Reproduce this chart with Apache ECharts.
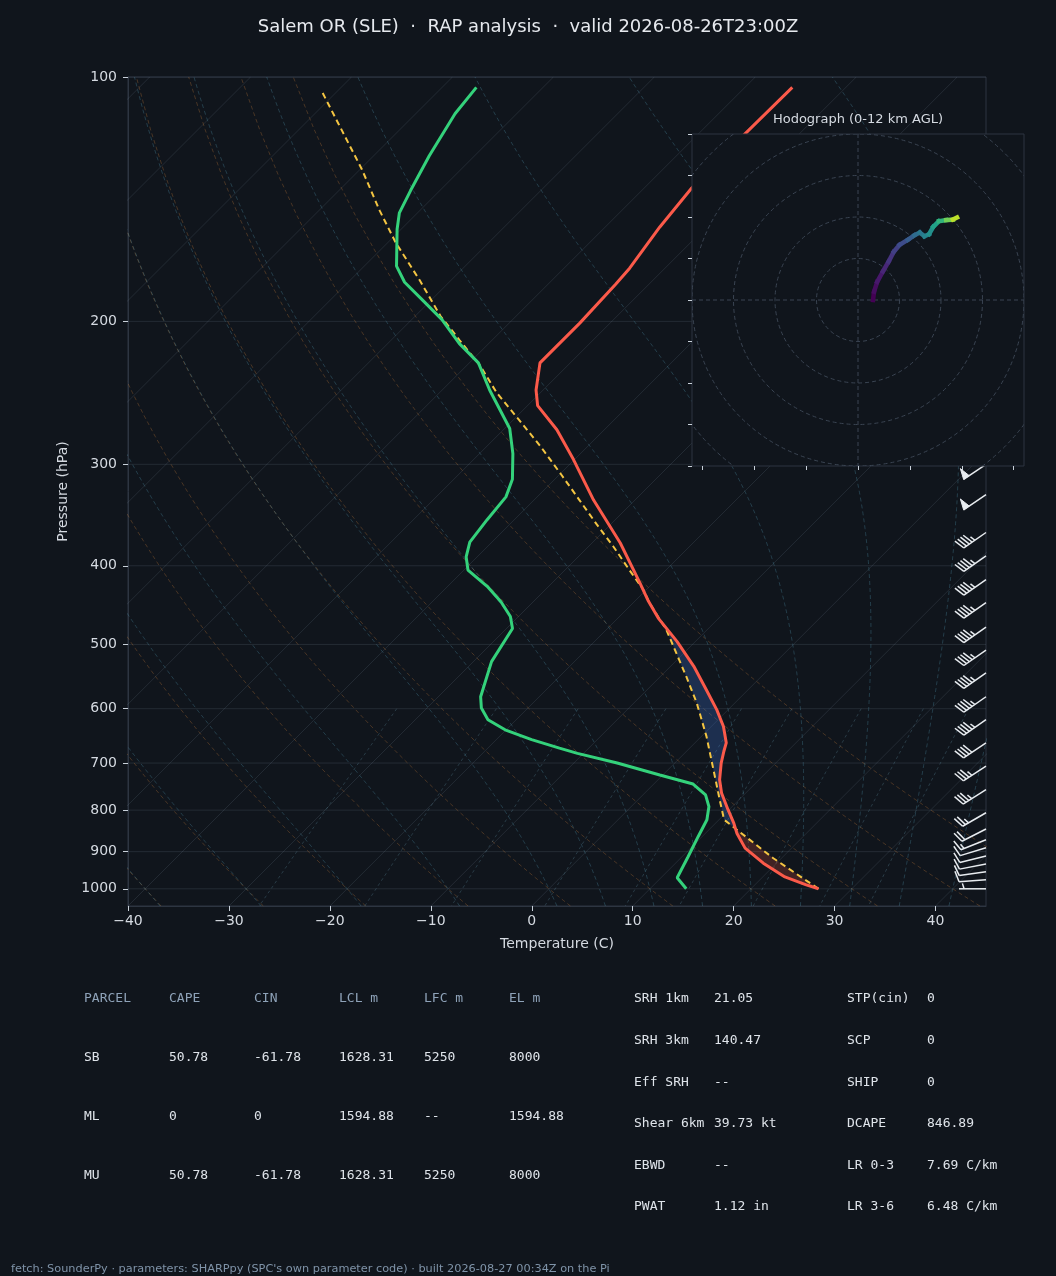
<!DOCTYPE html>
<html>
<head>
<meta charset="utf-8">
<title>Salem OR (SLE) sounding</title>
<script src="https://cdn.jsdelivr.net/npm/echarts@6/dist/echarts.min.js"></script>
<style>
html, body { margin: 0; padding: 0; background: #10151c; }
#chart { width: 1056px; height: 1276px; }
</style>
</head>
<body>
<div id="chart"></div>
<script>
// environment profile (hPa / degC)
var tempP = [1000, 989, 967, 930, 891, 854, 830, 799, 762, 734, 700, 677, 661, 631, 602, 569, 532, 496, 464, 441, 420, 375, 332, 296, 272, 254, 243, 225, 201, 180, 172, 153, 137, 119, 103];
var tempC = [26.7, 25.1, 22.2, 18.7, 15.4, 13.1, 11.8, 9.9, 7.6, 6.1, 4.6, 3.7, 3.1, 1.2, -1.1, -4.1, -7.7, -11.8, -16.0, -18.8, -21.3, -27.2, -34.1, -40.1, -44.7, -49.0, -50.7, -53.0, -53.0, -53.3, -53.5, -54.6, -55.3, -55.4, -55.3];

var dewP = [1000, 969, 913, 862, 822, 792, 766, 743, 724, 700, 681, 671, 655, 637, 619, 599, 580, 525, 478, 462, 443, 424, 405, 390, 374, 351, 329, 313, 291, 271, 243, 225, 213, 199, 189, 179, 171, 154, 147, 138, 125, 111, 103];
var dewC = [13.6, 11.6, 10.6, 9.6, 8.8, 7.7, 6.2, 3.9, -0.3, -5.7, -10.6, -12.9, -16.5, -20.1, -22.8, -24.6, -25.8, -28.2, -29.4, -30.8, -33.2, -36.1, -39.6, -41.1, -42.2, -42.7, -43.1, -44.2, -46.7, -49.5, -55.3, -59.1, -62.9, -67.0, -70.6, -74.4, -76.8, -80.4, -81.8, -82.9, -84.5, -86.1, -86.6];

// surface parcel path
var parcelP = [1000, 917, 822, 777, 734, 649, 590, 548, 480, 445, 428, 405, 379, 355, 332, 309, 285, 265, 245, 227, 211, 197, 178, 160, 146, 130, 104];
var parcelC = [26.7, 19.2, 10.5, 8.1, 5.7, 0.5, -3.8, -7.4, -14.0, -18.3, -20.3, -23.6, -27.5, -31.5, -35.5, -39.8, -44.7, -49.3, -54.3, -58.6, -63.2, -67.5, -73.1, -79.2, -84.0, -89.8, -101.6];

// wind barbs (hPa, kt, deg from)
var barbP = [300, 327, 364, 389, 416, 444, 476, 508, 542, 580, 619, 661, 706, 755, 806, 844, 870, 890, 911, 932, 953, 975, 1000];
var barbSpd = [50, 50, 45, 45, 45, 45, 45, 45, 45, 45, 45, 40, 35, 35, 25, 20, 15, 10, 10, 10, 10, 10, 5];
var barbDir = [236, 236, 235, 235, 235, 235, 235, 235, 235, 235, 235, 236, 237, 238, 240, 243, 248, 253, 256, 259, 262, 266, 270];

// hodograph trace (u, v) and height km
var hodoU = [2.9, 3.1, 3.7, 4.8, 5.9, 6.9, 8.0, 9.6, 10.9, 11.9, 12.8, 13.7, 14.5, 15.6, 17.0, 18.3, 19.1];
var hodoV = [0.0, 1.6, 3.5, 5.5, 7.4, 9.3, 10.6, 11.6, 12.5, 13.0, 12.3, 12.7, 14.1, 15.2, 15.4, 15.5, 15.9];
var hodoZ = [0, 0.4, 0.8, 1.3, 1.8, 2.3, 2.8, 3.5, 4.2, 4.8, 5.4, 6.0, 6.8, 7.8, 9.4, 10.8, 12.0];

// axis ticks
var pLabels = [100, 200, 300, 400, 500, 600, 700, 800, 900, 1000];
var tLabels = [-40, -30, -20, -10, 0, 10, 20, 30, 40];
var ringKt = [8, 16, 24, 32, 40];

// table text
var tableHead = ['PARCEL', 'CAPE', 'CIN', 'LCL m', 'LFC m', 'EL m'];
var tableRows = [
	['SB', '50.78', '-61.78', '1628.31', '5250', '8000'],
	['ML', '0', '0', '1594.88', '--', '1594.88'],
	['MU', '50.78', '-61.78', '1628.31', '5250', '8000']
];
var paramsA = [['SRH 1km', '21.05'], ['SRH 3km', '140.47'], ['Eff SRH', '--'], ['Shear 6km', '39.73 kt'], ['EBWD', '--'], ['PWAT', '1.12 in']];
var paramsB = [['STP(cin)', '0'], ['SCP', '0'], ['SHIP', '0'], ['DCAPE', '846.89'], ['LR 0-3', '7.69 C/km'], ['LR 3-6', '6.48 C/km']];

var titleText = 'Salem OR (SLE)  \u00b7  RAP analysis  \u00b7  valid 2026-08-26T23:00Z';
var footText = 'fetch: SounderPy \u00b7 parameters: SHARPpy (SPC\'s own parameter code) \u00b7 built 2026-08-27 00:34Z on the Pi';

// ---- skew-T helpers
var PBOT = 1050, PTOP = 100;
var KSKEW = 80.44; // degC of x shift per decade of pressure
function skewX(t, p) { return t + KSKEW * Math.log10(PBOT / p); }
function prof(P, T) {
	return P.map(function(p, i) { return [skewX(T[i], p), Math.log10(p)]; });
}
function linspace(a, b, n) {
	var out = [];
	for (var i = 0; i < n; i++) out.push(a + (b - a) * i / (n - 1));
	return out;
}
function interpT(P, T, p) {
	for (var i = 0; i < P.length - 1; i++) {
		if (P[i] >= p && P[i + 1] <= p) {
			var f = Math.log(P[i] / p) / Math.log(P[i] / P[i + 1]);
			return T[i] + (T[i + 1] - T[i]) * f;
		}
	}
	return T[T.length - 1];
}
// part of a profile between two pressures, ordered top -> bottom
function piece(P, T, pTop, pBot) {
	var out = [[interpT(P, T, pTop), pTop]];
	for (var i = P.length - 1; i >= 0; i--) {
		if (P[i] > pTop && P[i] < pBot) out.push([T[i], P[i]]);
	}
	out.push([interpT(P, T, pBot), pBot]);
	return out;
}

var kappa = 0.28571;
function dryLine(theta) {
	return linspace(PBOT, PTOP, 60).map(function(p) {
		var t = (theta + 273.15) * Math.pow(p / 1000, kappa) - 273.15;
		return [skewX(t, p), Math.log10(p)];
	});
}
function moistLine(t0) {
	var Rd = 287.04749, Lv = 2.50084e6, Cp = 1004.6662, eps = 0.622;
	function grad(p, T) {
		var tc = T - 273.15;
		var es = 6.112 * Math.exp(17.67 * tc / (tc + 243.5));
		var rs = eps * es / (p - es);
		return (Rd * T + Lv * rs) / (Cp + Lv * Lv * rs * eps / (Rd * T * T)) / p;
	}
	function walk(pEnd, step) {
		var pts = [], p = 1000, T = t0 + 273.15;
		while (Math.abs(p - pEnd) > 1e-6) {
			var h = step;
			if (Math.abs(pEnd - p) < Math.abs(h)) h = pEnd - p;
			var k1 = grad(p, T), k2 = grad(p + h / 2, T + h / 2 * k1);
			var k3 = grad(p + h / 2, T + h / 2 * k2), k4 = grad(p + h, T + h * k3);
			T += h / 6 * (k1 + 2 * k2 + 2 * k3 + k4);
			p += h;
			pts.push([p, T]);
		}
		return pts;
	}
	var pts = walk(PBOT, 5).reverse().concat([[1000, t0 + 273.15]], walk(PTOP, -5));
	return pts.map(function(d) { return [skewX(d[1] - 273.15, d[0]), Math.log10(d[0])]; });
}
function mixLine(w) {
	return linspace(600, PBOT, 50).map(function(p) {
		var e = p * w / (0.622 + w);
		var l = Math.log(e / 6.112);
		var td = 243.5 * l / (17.67 - l);
		return [skewX(td, p), Math.log10(p)];
	});
}

var series = [];
function bgLine(data, color, type, width) {
	series.push({
		type: 'line', data: data, showSymbol: false, silent: true, z: 1,
		lineStyle: { color: color, width: width || 1, type: type },
		xAxisIndex: 0, yAxisIndex: 0
	});
}
// isobars
pLabels.forEach(function(p) {
	bgLine([[-40, Math.log10(p)], [45, Math.log10(p)]], 'rgba(150,170,190,0.15)', 'solid');
});
// isotherms
for (var t = -120; t <= 40; t += 10) {
	bgLine([[skewX(t, PBOT), Math.log10(PBOT)], [skewX(t, PTOP), Math.log10(PTOP)]], 'rgba(150,170,190,0.15)', 'solid');
}
// dry adiabats
for (var th = -40; th <= 50; th += 10) bgLine(dryLine(th), 'rgba(205,130,60,0.3)', [4, 3]);
// moist adiabats
[-40, -30, -20, -10, 0, 5, 10, 15, 20, 25, 30, 35, 40, 45, 50].forEach(function(t0) {
	bgLine(moistLine(t0), 'rgba(80,150,175,0.32)', [4, 3]);
});
// mixing ratio lines
[0.0004, 0.001, 0.002, 0.004, 0.007, 0.01, 0.016, 0.024, 0.032].forEach(function(w) {
	bgLine(mixLine(w), 'rgba(100,150,170,0.3)', [3, 3]);
});

// CIN / CAPE shading between environment and parcel
var pCross = 844, pCinTop = 480;
function shadeSeries(pTop, pBot, color) {
	series.push({
		type: 'custom', silent: true, z: 2, xAxisIndex: 0, yAxisIndex: 0,
		data: [[0, 2]],
		renderItem: function(params, api) {
			var a = piece(tempP, tempC, pTop, pBot);
			var b = piece(parcelP, parcelC, pTop, pBot).reverse();
			var pts = a.concat(b).map(function(d) {
				return api.coord([skewX(d[0], d[1]), Math.log10(d[1])]);
			});
			return { type: 'polygon', shape: { points: pts }, style: { fill: color } };
		}
	});
}
shadeSeries(pCinTop, pCross, 'rgba(60,110,200,0.30)');
shadeSeries(pCross, 1000, 'rgba(220,80,60,0.24)');

// profiles
series.push({
	type: 'line', data: prof(parcelP, parcelC), showSymbol: false, z: 4,
	lineStyle: { color: '#f4c542', width: 2, type: [6, 4] }
});
series.push({
	type: 'line', data: prof(dewP, dewC), showSymbol: false, z: 5,
	lineStyle: { color: '#34d27b', width: 3 }
});
series.push({
	type: 'line', data: prof(tempP, tempC), showSymbol: false, z: 5,
	lineStyle: { color: '#fb5a4a', width: 3 }
});

// wind barbs at the right edge
series.push({
	type: 'custom', z: 6, clip: false, xAxisIndex: 0, yAxisIndex: 0,
	data: barbP.map(function(p, i) { return [45, Math.log10(p), barbSpd[i], barbDir[i]]; }),
	renderItem: function(params, api) {
		var base = api.coord([api.value(0), api.value(1)]);
		var spd = api.value(2), dir = api.value(3) * Math.PI / 180;
		var L = 27, fh = 0.4 * L, fw = 0.25 * L, sp = 0.125 * L;
		var a = [Math.sin(dir), -Math.cos(dir)], n = [Math.cos(dir), Math.sin(dir)];
		var col = '#e8ecf0';
		function pt(along, side) {
			return [base[0] + a[0] * along + n[0] * side, base[1] + a[1] * along + n[1] * side];
		}
		function seg(p1, p2) {
			return { type: 'line', shape: { x1: p1[0], y1: p1[1], x2: p2[0], y2: p2[1] }, style: { stroke: col, lineWidth: 1.5 } };
		}
		var kids = [seg(base, pt(L, 0))];
		var r = Math.round(spd / 5) * 5;
		var nf = Math.floor(r / 50); r -= 50 * nf;
		var nb = Math.floor(r / 10); r -= 10 * nb;
		var off = L;
		for (var i = 0; i < nf; i++) {
			if (off !== L) off += sp / 2;
			kids.push({ type: 'polygon', shape: { points: [pt(off, 0), pt(off - fw / 2, fh), pt(off - fw, 0)] },
				style: { fill: col, stroke: col, lineWidth: 1 } });
			off -= fw + sp;
		}
		for (var j = 0; j < nb; j++) {
			kids.push(seg(pt(off, 0), pt(off + fw / 2, fh)));
			off -= sp;
		}
		if (r >= 5) {
			if (off === L) off -= 1.5 * sp;
			kids.push(seg(pt(off, 0), pt(off + fw / 4, fh / 2)));
		}
		return { type: 'group', children: kids };
	}
});

// hodograph rings
series.push({
	type: 'custom', xAxisIndex: 1, yAxisIndex: 1, z: 12, silent: true, clip: true,
	data: [[0, 0]],
	renderItem: function(params, api) {
		var c = api.coord([0, 0]);
		var cs = params.coordSys;
		var sty = { stroke: '#3a4452', fill: null, lineWidth: 1, lineDash: [4, 3] };
		var kids = ringKt.map(function(r) {
			return { type: 'circle', shape: { cx: c[0], cy: c[1], r: api.size([r, r])[0] }, style: sty };
		});
		kids.push({ type: 'line', shape: { x1: cs.x, y1: c[1], x2: cs.x + cs.width, y2: c[1] }, style: sty });
		kids.push({ type: 'line', shape: { x1: c[0], y1: cs.y, x2: c[0], y2: cs.y + cs.height }, style: sty });
		return { type: 'group', children: kids };
	}
});
// hodograph trace, colored by height
var hodoIndex = series.length;
series.push({
	type: 'custom', xAxisIndex: 1, yAxisIndex: 1, z: 13, clip: true,
	data: hodoU.slice(0, -1).map(function(u, i) {
		return [u, hodoV[i], hodoU[i + 1], hodoV[i + 1], hodoZ[i]];
	}),
	renderItem: function(params, api) {
		var p1 = api.coord([api.value(0), api.value(1)]);
		var p2 = api.coord([api.value(2), api.value(3)]);
		return { type: 'line', shape: { x1: p1[0], y1: p1[1], x2: p2[0], y2: p2[1] },
			style: { stroke: api.visual('color'), lineWidth: 4.5, lineCap: 'square' } };
	}
});

function minus(v) { return v < 0 ? '\u2212' + Math.abs(v) : String(v); }
var txt = '#d5dae1';
var gridCol = '#2d3541';
var mono = '"DejaVu Sans Mono", monospace';

var graphics = [];
function addText(s, x, y, color, font) {
	graphics.push({
		type: 'text', silent: true,
		style: { text: s, x: x, y: y, fill: color, font: font, textVerticalAlign: 'middle', verticalAlign: 'middle' }
	});
}
var colX = [84, 169, 254, 339, 424, 509];
tableHead.forEach(function(h, i) { addText(h, colX[i], 999, '#8ea2b8', '13px ' + mono); });
tableRows.forEach(function(row, r) {
	row.forEach(function(c, i) { addText(c, colX[i], 1058 + r * 59, '#dfe4ea', '13px ' + mono); });
});
paramsA.forEach(function(row, r) {
	addText(row[0], 634, 999 + r * 41.6, '#dfe4ea', '13px ' + mono);
	addText(row[1], 714, 999 + r * 41.6, '#dfe4ea', '13px ' + mono);
});
paramsB.forEach(function(row, r) {
	addText(row[0], 847, 999 + r * 41.6, '#dfe4ea', '13px ' + mono);
	addText(row[1], 927, 999 + r * 41.6, '#dfe4ea', '13px ' + mono);
});
addText(footText, 11, 1269, '#7f93a8', '11.3px "DejaVu Sans", sans-serif');

var chart = echarts.init(document.getElementById('chart'), null, { renderer: 'canvas' });
chart.setOption({
	backgroundColor: '#10151c',
	animation: false,
	textStyle: { fontFamily: '"DejaVu Sans", sans-serif' },
	title: [
		{ text: titleText, left: 'center', top: 18, padding: 0,
			textStyle: { color: '#e6e9ee', fontSize: 18, fontWeight: 'normal', fontFamily: '"DejaVu Sans", sans-serif' } },
		{ text: 'Hodograph (0-12 km AGL)', left: 858, textAlign: 'center', top: 113, padding: 0,
			textStyle: { color: '#d5dae1', fontSize: 13, fontWeight: 'normal', fontFamily: '"DejaVu Sans", sans-serif' } }
	],
	grid: [
		{ left: 128, top: 77, width: 858, height: 829, show: true, backgroundColor: '#10151c', borderColor: gridCol, borderWidth: 1 },
		{ left: 692, top: 134, width: 332, height: 332, show: true, backgroundColor: '#10151c', borderColor: gridCol, borderWidth: 1, z: 10 }
	],
	xAxis: [
		{ type: 'value', gridIndex: 0, min: -40, max: 45, interval: 10,
			name: 'Temperature (C)', nameLocation: 'middle', nameGap: 31,
			nameTextStyle: { color: txt, fontSize: 14 },
			axisLine: { show: true, onZero: false, lineStyle: { color: gridCol } },
			axisTick: { show: true, length: 5, customValues: tLabels, lineStyle: { color: '#c9d1da' } },
			axisLabel: { color: txt, fontSize: 14, margin: 8, customValues: tLabels, formatter: minus },
			splitLine: { show: false } },
		{ type: 'value', gridIndex: 1, min: -32, max: 32, z: 11,
			axisLine: { show: false, onZero: false },
			axisTick: { show: true, length: 4, customValues: [-30, -20, -10, 0, 10, 20, 30], lineStyle: { color: '#c9d1da' } },
			axisLabel: { show: false },
			splitLine: { show: false } }
	],
	yAxis: [
		{ type: 'value', gridIndex: 0, inverse: true, min: Math.log10(PTOP), max: Math.log10(PBOT),
			name: 'Pressure (hPa)', nameLocation: 'middle', nameGap: 58,
			nameTextStyle: { color: txt, fontSize: 14 },
			axisLine: { show: true, onZero: false, lineStyle: { color: gridCol } },
			axisTick: { show: true, length: 5, customValues: pLabels.map(Math.log10), lineStyle: { color: '#c9d1da' } },
			axisLabel: { color: txt, fontSize: 14, margin: 11, customValues: pLabels.map(Math.log10),
				formatter: function(v) { return String(Math.round(Math.pow(10, v))); } },
			splitLine: { show: false } },
		{ type: 'value', gridIndex: 1, min: -32, max: 32, interval: 8, z: 11,
			axisLine: { show: false, onZero: false },
			axisTick: { show: true, length: 4, lineStyle: { color: '#c9d1da' } },
			axisLabel: { show: false },
			splitLine: { show: false } }
	],
	visualMap: [{
		type: 'continuous', show: false, seriesIndex: hodoIndex, dimension: 4, min: 0, max: 12,
		inRange: { color: ['#440154', '#482878', '#3e4989', '#31688e', '#26828e', '#1f9e89', '#35b779', '#6ece58', '#b5de2b', '#fde725'] }
	}],
	graphic: graphics,
	series: series
});
</script>
</body>
</html>
